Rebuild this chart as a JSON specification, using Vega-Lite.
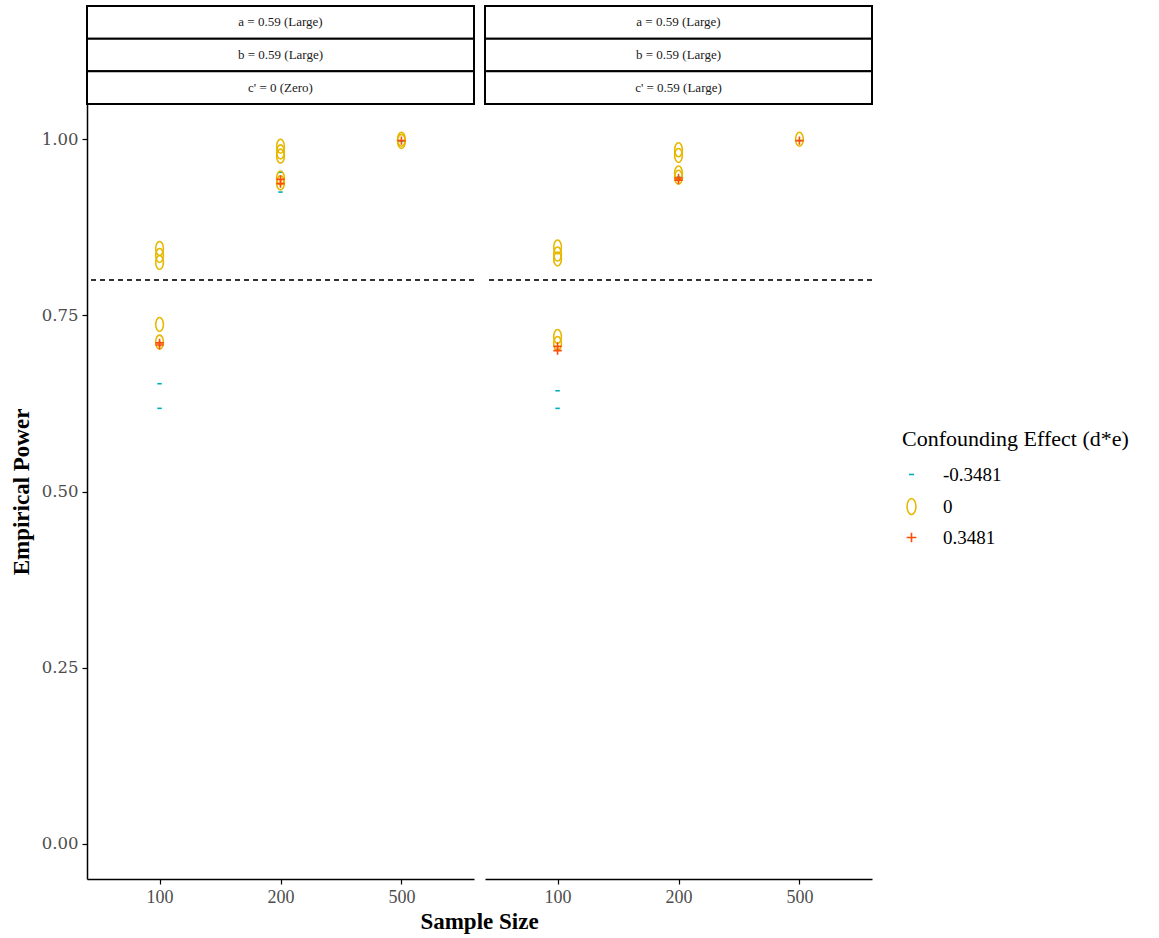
{
  "$schema": "https://vega.github.io/schema/vega-lite/v6.json",
  "background": "white",
  "padding": {"left": 10, "top": 5, "right": 5, "bottom": 5},
  "config": {
    "view": {"stroke": null},
    "font": "Liberation Serif",
    "axis": {"grid": false, "domainColor": "black", "domainWidth": 1.5, "tickColor": "black", "tickWidth": 1.2, "tickSize": 5, "labelColor": "#4D4D4D", "labelFont": "Liberation Serif", "titleFont": "Liberation Serif", "titleFontWeight": "bold", "titleColor": "black", "titleFontSize": 23}
  },
  "columns": 2,
  "bounds": "flush",
  "spacing": {"row": 0, "column": 11},
  "concat": [
    {
      "width": 387, "height": 98,
      "data": {"values": [
        {"panel": "A", "row": 1, "label": "a = 0.59  (Large)"},
        {"panel": "A", "row": 2, "label": "b = 0.59  (Large)"},
        {"panel": "A", "row": 3, "label": "c' = 0 (Zero)"}
      ]},
      "layer": [
        {"mark": {"type": "rect", "fill": "white", "stroke": "black", "strokeWidth": 2},
         "encoding": {
           "x": {"field": "panel", "type": "nominal", "scale": {"paddingInner": 0, "paddingOuter": 0}, "axis": null},
           "y": {"field": "row", "type": "ordinal", "scale": {"paddingInner": 0, "paddingOuter": 0}, "axis": null}
         }},
        {"mark": {"type": "text", "fontSize": 13, "color": "#1A1A1A"},
         "encoding": {
           "x": {"field": "panel", "type": "nominal", "axis": null},
           "y": {"field": "row", "type": "ordinal", "axis": null},
           "text": {"field": "label", "type": "nominal"}
         }}
      ]
    },
    {
      "width": 387, "height": 98,
      "data": {"values": [
        {"panel": "B", "row": 1, "label": "a = 0.59  (Large)"},
        {"panel": "B", "row": 2, "label": "b = 0.59  (Large)"},
        {"panel": "B", "row": 3, "label": "c' = 0.59  (Large)"}
      ]},
      "layer": [
        {"mark": {"type": "rect", "fill": "white", "stroke": "black", "strokeWidth": 2},
         "encoding": {
           "x": {"field": "panel", "type": "nominal", "scale": {"paddingInner": 0, "paddingOuter": 0}, "axis": null},
           "y": {"field": "row", "type": "ordinal", "scale": {"paddingInner": 0, "paddingOuter": 0}, "axis": null}
         }},
        {"mark": {"type": "text", "fontSize": 13, "color": "#1A1A1A"},
         "encoding": {
           "x": {"field": "panel", "type": "nominal", "axis": null},
           "y": {"field": "row", "type": "ordinal", "axis": null},
           "text": {"field": "label", "type": "nominal"}
         }}
      ]
    },
    {
      "width": 387, "height": 775,
      "data": {"values": [
        {"n": "100", "effect": "-0.3481", "power": 0.653},
        {"n": "100", "effect": "-0.3481", "power": 0.618},
        {"n": "100", "effect": "0", "power": 0.845},
        {"n": "100", "effect": "0", "power": 0.835},
        {"n": "100", "effect": "0", "power": 0.825},
        {"n": "100", "effect": "0", "power": 0.737},
        {"n": "100", "effect": "0", "power": 0.712},
        {"n": "100", "effect": "0.3481", "power": 0.711},
        {"n": "100", "effect": "0.3481", "power": 0.708},
        {"n": "200", "effect": "-0.3481", "power": 0.953},
        {"n": "200", "effect": "-0.3481", "power": 0.925},
        {"n": "200", "effect": "0", "power": 0.99},
        {"n": "200", "effect": "0", "power": 0.982},
        {"n": "200", "effect": "0", "power": 0.976},
        {"n": "200", "effect": "0", "power": 0.945},
        {"n": "200", "effect": "0", "power": 0.938},
        {"n": "200", "effect": "0.3481", "power": 0.943},
        {"n": "200", "effect": "0.3481", "power": 0.937},
        {"n": "500", "effect": "-0.3481", "power": 0.997},
        {"n": "500", "effect": "0", "power": 1.0},
        {"n": "500", "effect": "0", "power": 0.997},
        {"n": "500", "effect": "0.3481", "power": 0.998}
      ]},
      "layer": [
        {"mark": {"type": "rule", "strokeDash": [5, 4], "color": "#333333", "strokeWidth": 1.2},
         "encoding": {"y": {"datum": 0.8, "type": "quantitative"}}},
        {"mark": {"type": "point", "filled": false, "strokeWidth": 1.6, "opacity": 1, "size": 196},
         "encoding": {
           "x": {"field": "n", "type": "ordinal", "scale": {"type": "point", "padding": 0.6},
                 "axis": {"title": "Sample Size", "labelAngle": 0, "labelFontSize": 18, "labelPadding": 4, "titlePadding": 4, "titleX": 392}},
           "y": {"field": "power", "type": "quantitative", "scale": {"domain": [-0.05, 1.05], "nice": false, "zero": false},
                 "axis": {"title": "Empirical Power", "values": [0, 0.25, 0.5, 0.75, 1], "format": ".2f", "labelFontSize": 16.5, "labelFont": "DejaVu Serif", "labelPadding": 4, "titlePadding": 8}},
           "color": {"field": "effect", "type": "nominal",
                     "scale": {"domain": ["-0.3481", "0", "0.3481"], "range": ["#00AFBB", "#E7B800", "#FC4E07"]},
                     "legend": {"title": "Confounding Effect (d*e)", "orient": "none", "legendX": 815, "legendY": 423, "titleFontSize": 22, "titleFontWeight": "normal", "titleColor": "black", "titleLimit": 400, "labelFontSize": 19, "labelColor": "black", "rowPadding": 10, "symbolSize": 260, "symbolStrokeWidth": 1.6, "labelOffset": 22, "titlePadding": 14}},
           "shape": {"field": "effect", "type": "nominal",
                     "scale": {"domain": ["-0.3481", "0", "0.3481"], "range": ["M-0.32,0H0.32", "M0,-1A0.55,1,0,1,1,0,1A0.55,1,0,1,1,0,-1Z", "M-0.6,0H0.6M0,-0.6V0.6"]}}
         }}
      ]
    },
    {
      "width": 387, "height": 775,
      "data": {"values": [
        {"n": "100", "effect": "-0.3481", "power": 0.643},
        {"n": "100", "effect": "-0.3481", "power": 0.618},
        {"n": "100", "effect": "0", "power": 0.847},
        {"n": "100", "effect": "0", "power": 0.837},
        {"n": "100", "effect": "0", "power": 0.83},
        {"n": "100", "effect": "0", "power": 0.72},
        {"n": "100", "effect": "0", "power": 0.71},
        {"n": "100", "effect": "0.3481", "power": 0.706},
        {"n": "100", "effect": "0.3481", "power": 0.7},
        {"n": "200", "effect": "-0.3481", "power": 0.946},
        {"n": "200", "effect": "-0.3481", "power": 0.942},
        {"n": "200", "effect": "0", "power": 0.985},
        {"n": "200", "effect": "0", "power": 0.977},
        {"n": "200", "effect": "0", "power": 0.952},
        {"n": "200", "effect": "0", "power": 0.946},
        {"n": "200", "effect": "0.3481", "power": 0.945},
        {"n": "200", "effect": "0.3481", "power": 0.942},
        {"n": "500", "effect": "-0.3481", "power": 0.998},
        {"n": "500", "effect": "0", "power": 1.0},
        {"n": "500", "effect": "0.3481", "power": 0.998}
      ]},
      "layer": [
        {"mark": {"type": "rule", "strokeDash": [5, 4], "color": "#333333", "strokeWidth": 1.2},
         "encoding": {"y": {"datum": 0.8, "type": "quantitative", "axis": null}}},
        {"mark": {"type": "point", "filled": false, "strokeWidth": 1.6, "opacity": 1, "size": 196},
         "encoding": {
           "x": {"field": "n", "type": "ordinal", "scale": {"type": "point", "padding": 0.6},
                 "axis": {"title": null, "labelAngle": 0, "labelFontSize": 18, "labelPadding": 4}},
           "y": {"field": "power", "type": "quantitative", "scale": {"domain": [-0.05, 1.05], "nice": false, "zero": false}, "axis": null},
           "color": {"field": "effect", "type": "nominal"},
           "shape": {"field": "effect", "type": "nominal"}
         }}
      ]
    }
  ]
}
